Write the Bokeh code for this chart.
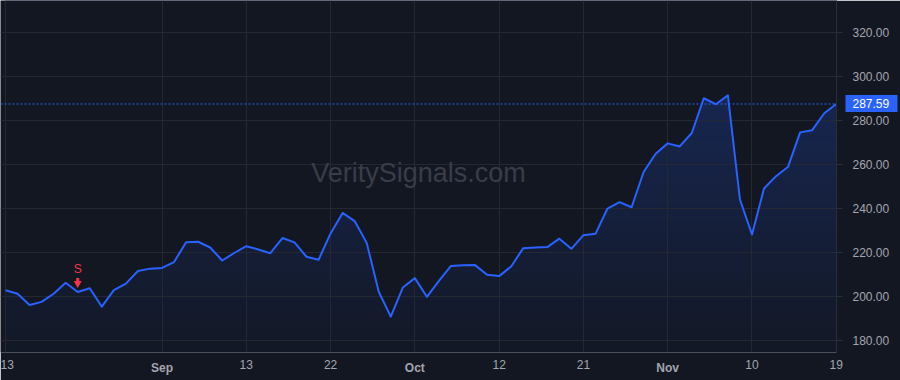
import numpy as np
from bokeh.plotting import figure
from bokeh.models import FixedTicker, PrintfTickFormatter, Span, Label, Range1d, LinearAxis
from bokeh.core.properties import value
from bokeh.embed import file_html
from bokeh.resources import INLINE

# ---- data ----
values = [
    203.0, 201.4, 196.3, 197.7, 201.4, 206.4, 202.2, 203.9, 195.5, 203.0,
    206.0, 211.7, 212.8, 213.1, 215.8, 224.8, 225.0, 222.4, 216.5, 219.9,
    223.0, 221.5, 219.8, 226.7, 224.7, 218.2, 216.8, 228.8, 238.1, 234.4,
    224.5, 202.3, 191.0, 204.2, 208.5, 200.0, 207.2, 214.0, 214.3, 214.4,
    210.0, 209.4, 213.8, 222.1, 222.4, 222.6, 226.4, 221.8, 228.0, 228.6,
    240.1, 243.0, 240.7, 256.7, 265.0, 269.7, 268.3, 274.4, 290.2, 287.5,
    291.5, 244.2, 228.3, 249.2, 254.8, 259.1, 274.7, 275.7, 283.4, 287.59,
]
tick_idx = [0, 13, 20, 27, 34, 41, 48, 55, 62, 69]
tick_labels = ["13", "Sep", "13", "22", "Oct", "12", "21", "Nov", "10", "19"]
month_names = ["Sep", "Oct", "Nov"]
price_ticks = [180, 200, 220, 240, 260, 280, 300, 320]
signal_idx = 6
signal_text = "S"
watermark_text = "VeritySignals.com"

# ---- styles ----
BG = "#131722"
GRID = "#242833"
TEXT = "#a3a6af"
BLUE = "#2962FF"
RED = "#f23645"
FONT = "Liberation Sans"

W, H = 900, 380
FRAME_W, FRAME_H = 836, 352

idx = list(range(len(values)))
last_price = values[-1]

x0, x1 = -0.415, len(values) - 1 + 0.02
y0, y1 = 174.7, 334.6
ppu = FRAME_H / (y1 - y0)          # pixels per price unit

p = figure(width=W, height=H, x_range=Range1d(x0, x1), y_range=Range1d(y0, y1),
           output_backend="svg", toolbar_location=None, y_axis_location="right",
           min_border_left=0, min_border_top=0, min_border_right=W - FRAME_W,
           min_border_bottom=H - FRAME_H,
           background_fill_color=BG, border_fill_color=BG, outline_line_color=None)

# gradient fill under the line: gradient image masked above the line
n = FRAME_H
img = np.zeros((n, 1), dtype=np.uint32)
view = img.view(dtype=np.uint8).reshape((n, 1, 4))
view[:, :, 0] = 41
view[:, :, 1] = 98
view[:, :, 2] = 255
view[:, 0, 3] = (np.linspace(0.02, 0.28, n) * 255).astype(np.uint8)
p.image_rgba(image=[img], x=0, y=y0, dw=len(values) - 1, dh=y1 - y0, level="image")
p.varea(x=idx, y1=values, y2=[y1] * len(values), fill_color=BG, fill_alpha=1.0, level="image")

# main line
p.line(idx, values, line_color=BLUE, line_width=2, line_join="round")

# last price dotted line
p.add_layout(Span(location=last_price, dimension="width", line_color=BLUE,
                  line_dash="2 2", line_width=1))

# signal marker
sv = values[signal_idx]
p.text(x=[signal_idx], y=[sv], text=[signal_text], y_offset=-23,
       text_align="center", text_baseline="middle", text_color=RED,
       text_font=value(FONT), text_font_size="12px")
p.scatter(x=[signal_idx], y=[sv + 8.6 / ppu], marker="inverted_triangle", size=8,
          fill_color=RED, line_color=None)
p.rect(x=[signal_idx], y=[sv + 11.5 / ppu], width=3, height=5,
       width_units="screen", height_units="screen", fill_color=RED, line_color=None)

# watermark
p.add_layout(Label(x=(x0 + x1) / 2, y=y0 + (FRAME_H - 172) / ppu, text=watermark_text,
                   text_align="center", text_baseline="middle", text_color="#393d49",
                   text_font=FONT, text_font_size="27px", level="underlay"))


def style_axis(ax, bold=False):
    ax.major_label_text_color = TEXT
    ax.major_label_text_font = FONT
    ax.major_label_text_font_size = "12px"
    ax.major_label_text_font_style = "bold" if bold else "normal"
    ax.minor_tick_line_color = None


# x axis: day numbers (normal) + month names (bold, second axis overlapping the first row)
xa = p.xaxis[0]
xa.ticker = FixedTicker(ticks=tick_idx)
xa.major_label_overrides = {t: ("" if l in month_names else l) for t, l in zip(tick_idx, tick_labels)}
xa.axis_line_color = None
xa.major_tick_line_color = None
xa.major_tick_out = 0
xa.major_tick_in = 0
xa.major_label_standoff = 7
style_axis(xa)

xm = LinearAxis(ticker=FixedTicker(ticks=tick_idx),
                major_label_overrides={t: (l if l in month_names else "") for t, l in zip(tick_idx, tick_labels)})
xm.axis_line_color = None
xm.major_tick_line_color = None
xm.major_tick_out = 0
xm.major_tick_in = 0
xm.major_label_standoff = -11
style_axis(xm, bold=True)
p.add_layout(xm, "below")

p.xgrid[0].ticker = FixedTicker(ticks=tick_idx)

# price scale
ya = p.yaxis[0]
ya.ticker = FixedTicker(ticks=price_ticks)
ya.formatter = PrintfTickFormatter(format="%.2f")
ya.axis_line_color = "#2a2e39"
ya.major_tick_line_color = "#2a2e39"
ya.major_tick_out = 6
ya.major_tick_in = 0
ya.major_label_standoff = 10
style_axis(ya)

# last-price tag: a second price-scale axis whose single thick tick forms the blue box
yt = LinearAxis(ticker=FixedTicker(ticks=[last_price]),
                formatter=PrintfTickFormatter(format="%.2f"))
yt.axis_line_color = None
yt.major_tick_line_color = BLUE
yt.major_tick_line_width = 17
yt.major_tick_in = 47
yt.major_tick_out = 5
yt.major_label_standoff = -45
style_axis(yt)
yt.major_label_text_color = "white"
p.add_layout(yt, "right")

p.xgrid.grid_line_color = GRID
p.ygrid.grid_line_color = GRID

open("out.html", "w").write(file_html(p, INLINE))
